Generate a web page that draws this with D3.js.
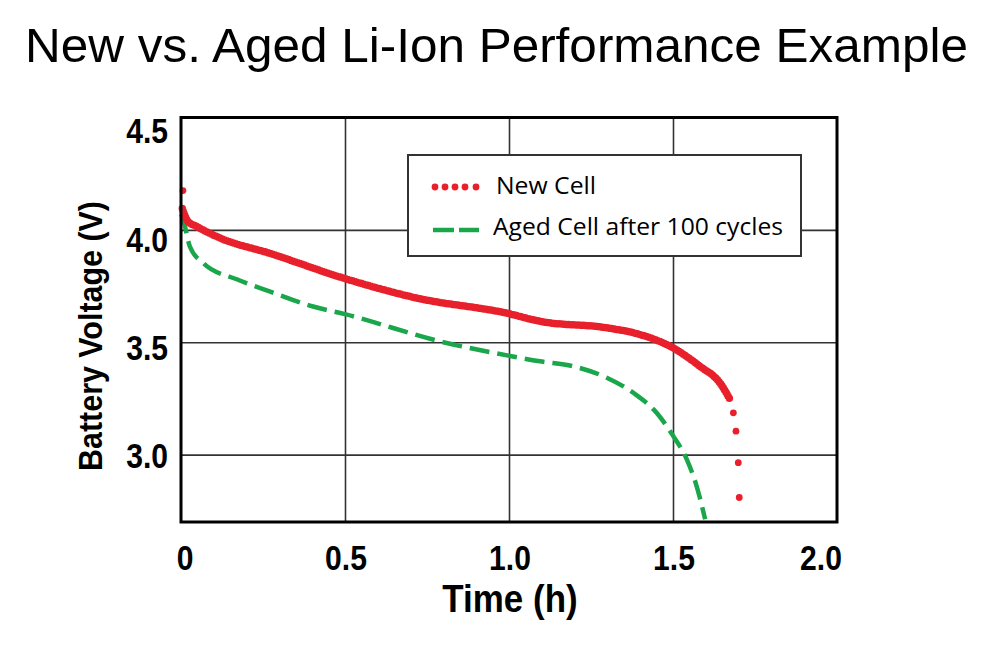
<!DOCTYPE html>
<html lang="en">
<head>
  <meta charset="UTF-8">
  <title>New vs. Aged Li-Ion Performance Example</title>
  <script src="https://d3js.org/d3.v7.min.js"></script>
  <style>
    body { margin: 0; background: #fff; }
    .narrow { font-family: "Liberation Sans Narrow", "Arial Narrow", "Liberation Sans", sans-serif; font-weight: bold; }
  </style>
</head>
<body>
  <svg width="985" height="658"></svg>

  <script>
    // Values: [time (h), voltage (V)]
    const newCell = [
      [0.004, 4.095], [0.02, 4.04], [0.048, 4.015], [0.12, 3.963], [0.27, 3.896],
      [0.494, 3.786], [0.717, 3.697], [1.0, 3.627], [1.094, 3.593], [1.298, 3.564],
      [1.40, 3.534], [1.50, 3.475], [1.582, 3.393], [1.643, 3.319], [1.674, 3.245]
    ];
    // loose single samples at the start and the end of the new cell discharge
    const newCellDots = [
      [0.006, 4.175], [1.684, 3.186], [1.692, 3.104], [1.699, 2.964], [1.702, 2.809]
    ];
    const agedCell = [
      [0.0, 4.07], [0.007, 4.044], [0.027, 3.926], [0.068, 3.852], [0.17, 3.78],
      [0.27, 3.726], [0.40, 3.66], [0.5, 3.625], [0.8, 3.50], [1.0, 3.44],
      [1.094, 3.415], [1.196, 3.393], [1.298, 3.342], [1.379, 3.275], [1.45, 3.186],
      [1.501, 3.082], [1.542, 2.979], [1.572, 2.86], [1.598, 2.712]
    ];
    const xTicks = [0, 0.5, 1.0, 1.5, 2.0];
    const xTickLabels = ['0', '0.5', '1.0', '1.5', '2.0'];
    const yTicks = [3.0, 3.5, 4.0, 4.5];
    const seriesNames = ['New Cell', 'Aged Cell after 100 cycles'];

    const red = '#e8202c';
    const green = '#1aa64b';
    const squeeze = 0.86; // condensed look for the bold axis text

    const svg = d3.select('svg');
    const plotLeft = 181, plotRight = 837, plotTop = 117.5, plotBottom = 522;

    const x = d3.scaleLinear().domain([0, 2]).range([plotLeft, plotRight]);
    const y = d3.scaleLinear().domain([2.7, 4.5]).range([plotBottom, plotTop]);
    // the tick labels in the original sit a little off the grid lines
    const yLabel = d3.scaleLinear().domain([3.0, 4.5]).range([456, 131]);

    // Title
    svg.append('text')
      .attr('x', 496.5)
      .attr('y', 62)
      .attr('text-anchor', 'middle')
      .attr('font-family', '"Liberation Sans", Arial, sans-serif')
      .attr('font-size', 48)
      .attr('textLength', 943)
      .attr('lengthAdjust', 'spacingAndGlyphs')
      .text('New vs. Aged Li-Ion Performance Example');

    // Grid lines
    svg.append('g')
      .attr('transform', `translate(0,${plotBottom})`)
      .call(d3.axisBottom(x).tickValues([0.5, 1.0, 1.5]).tickSize(-(plotBottom - plotTop)).tickFormat(''))
      .call(g => g.select('.domain').remove())
      .selectAll('line').attr('stroke', '#333').attr('stroke-width', 1.6);

    svg.append('g')
      .attr('transform', `translate(${plotLeft},0)`)
      .call(d3.axisLeft(y).tickValues([3.0, 3.5, 4.0]).tickSize(-(plotRight - plotLeft)).tickFormat(''))
      .call(g => g.select('.domain').remove())
      .selectAll('line').attr('stroke', '#333').attr('stroke-width', 1.6);

    // Legend box (drawn before the curves so they pass over it)
    const legend = svg.append('g');
    legend.append('rect')
      .attr('x', 408).attr('y', 155)
      .attr('width', 393).attr('height', 101)
      .attr('fill', '#fff')
      .attr('stroke', '#333')
      .attr('stroke-width', 2);

    const line = d3.line()
      .x(d => x(d[0]))
      .y(d => y(d[1]))
      .curve(d3.curveMonotoneX);

    // Aged cell: green dashes
    svg.append('path')
      .datum(agedCell)
      .attr('d', line)
      .attr('fill', 'none')
      .attr('stroke', green)
      .attr('stroke-width', 4.5)
      .attr('stroke-dasharray', '20 8');

    // New cell: densely packed red dots
    svg.append('path')
      .datum(newCell)
      .attr('d', line)
      .attr('fill', 'none')
      .attr('stroke', red)
      .attr('stroke-width', 7.5)
      .attr('stroke-linecap', 'round')
      .attr('stroke-dasharray', '0 2.4');

    svg.selectAll('.dot')
      .data(newCellDots)
      .enter().append('circle')
      .attr('class', 'dot')
      .attr('cx', d => x(d[0]))
      .attr('cy', d => y(d[1]))
      .attr('r', 3.4)
      .attr('fill', red);

    // Plot frame
    svg.append('rect')
      .attr('x', plotLeft).attr('y', plotTop)
      .attr('width', plotRight - plotLeft).attr('height', plotBottom - plotTop)
      .attr('fill', 'none')
      .attr('stroke', '#000')
      .attr('stroke-width', 3);

    // Legend entries
    legend.selectAll('.ldot')
      .data([435, 445, 455, 465, 476])
      .enter().append('circle')
      .attr('cx', d => d)
      .attr('cy', 187)
      .attr('r', 3.4)
      .attr('fill', red);

    legend.append('line')
      .attr('x1', 433).attr('x2', 479)
      .attr('y1', 230).attr('y2', 230)
      .attr('stroke', green)
      .attr('stroke-width', 4.5)
      .attr('stroke-dasharray', '21 5');

    legend.selectAll('.ltext')
      .data(seriesNames)
      .enter().append('text')
      .attr('x', (d, i) => i === 0 ? 496 : 493)
      .attr('y', (d, i) => i === 0 ? 194 : 235)
      .attr('font-family', '"Open Sans", "Noto Sans", sans-serif')
      .attr('font-size', 23)
      .attr('textLength', (d, i) => i === 0 ? 100 : 290)
      .attr('lengthAdjust', 'spacingAndGlyphs')
      .text(d => d);

    // X tick labels
    svg.selectAll('.xlab')
      .data(xTicks)
      .enter().append('text')
      .attr('class', 'narrow')
      .attr('transform', (d, i) => {
        const dx = i === 0 ? 4 : i === xTicks.length - 1 ? -16 : 1;
        return `translate(${x(d) + dx},570) scale(${squeeze},1)`;
      })
      .attr('text-anchor', 'middle')
      .attr('font-size', 35)
      .text((d, i) => xTickLabels[i]);

    // Y tick labels
    svg.selectAll('.ylab')
      .data(yTicks)
      .enter().append('text')
      .attr('class', 'narrow')
      .attr('transform', d => `translate(168,${yLabel(d)}) scale(${squeeze},1)`)
      .attr('dy', '0.357em')
      .attr('text-anchor', 'end')
      .attr('font-size', 35)
      .text(d => d.toFixed(1));

    // Axis titles
    svg.append('text')
      .attr('class', 'narrow')
      .attr('transform', 'translate(510,612) scale(0.92,1)')
      .attr('text-anchor', 'middle')
      .attr('font-size', 38)
      .text('Time (h)');

    svg.append('text')
      .attr('class', 'narrow')
      .attr('transform', 'translate(102,336) rotate(-90) scale(0.895,1)')
      .attr('text-anchor', 'middle')
      .attr('font-size', 34)
      .text('Battery Voltage (V)');
  </script>
</body>
</html>
